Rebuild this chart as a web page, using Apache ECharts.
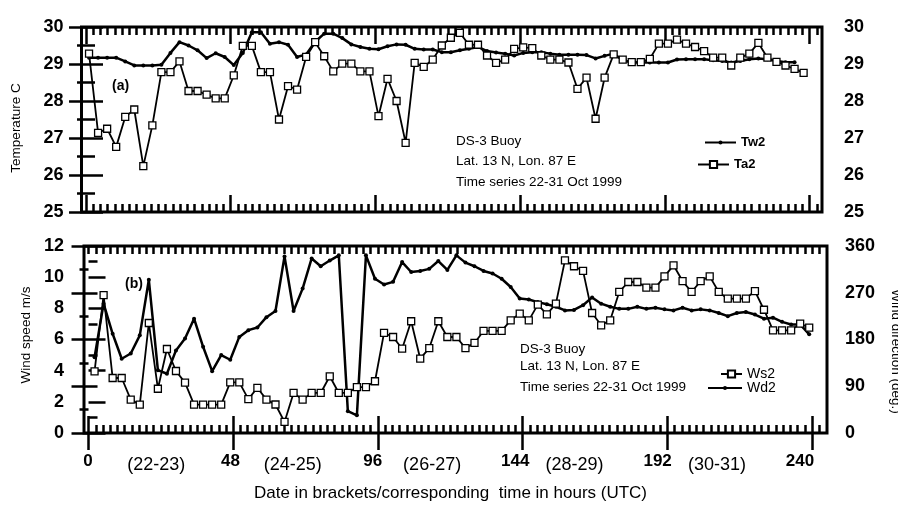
<!DOCTYPE html>
<html><head><meta charset="utf-8">
<script src="https://cdn.jsdelivr.net/npm/echarts@6/dist/echarts.min.js"></script>
<style>html,body{margin:0;padding:0;background:#fff}#c{width:898px;height:507px}</style>
</head><body><div id="c"></div>
<script>
// sampling times (hours)
const hoursTop = [1,4,7,10,13,16,19,22,25,28,31,34,37,40,43,46,49,52,55,58,61,64,67,70,73,76,79,82,85,88,91,94,97,100,103,106,109,112,115,118,121,124,127,130,133,136,139,142,145,148,151,154,157,160,163,166,169,172,175,178,181,184,187,190,193,196,199,202,205,208,211,214,217,220,223,226,229,232,235,238];
const hoursBottom = [2,5,8,11,14,17,20,23,26,29,32,35,38,41,44,47,50,53,56,59,62,65,68,71,74,77,80,83,86,89,92,95,98,101,104,107,110,113,116,119,122,125,128,131,134,137,140,143,146,149,152,155,158,161,164,167,170,173,176,179,182,185,188,191,194,197,200,203,206,209,212,215,218,221,224,227,230,233,236,239];

const tw2 = [29.17,29.17,29.17,29.17,29.07,28.96,28.96,28.96,28.98,29.30,
29.59,29.50,29.37,29.16,29.29,29.19,28.97,29.30,29.86,29.86,
29.55,29.59,29.52,29.19,29.26,29.60,29.82,29.82,29.70,29.53,
29.46,29.41,29.40,29.48,29.53,29.52,29.41,29.39,29.39,29.32,
29.32,29.37,29.41,29.46,29.35,29.31,29.28,29.23,29.30,29.32,
29.32,29.28,29.25,29.25,29.25,29.24,29.15,29.22,29.28,29.10,
29.04,29.04,29.04,29.04,29.04,29.12,29.13,29.13,29.13,29.10,
29.08,29.04,29.08,29.13,29.15,29.13,29.08,29.05,29.05,null];

const ta2 = [29.28,27.14,27.25,26.76,27.57,27.77,26.24,27.34,28.78,28.78,
29.07,28.27,28.27,28.17,28.07,28.07,28.69,29.49,29.49,28.78,
28.78,27.50,28.40,28.31,29.19,29.59,29.21,28.80,29.01,29.01,
28.80,28.80,27.59,28.60,28.00,26.87,29.03,28.92,29.12,29.50,
29.71,29.84,29.52,29.52,29.23,29.03,29.12,29.41,29.45,29.43,
29.23,29.12,29.12,29.04,28.33,28.63,27.52,28.63,29.26,29.12,
29.05,29.05,29.14,29.55,29.55,29.66,29.55,29.46,29.35,29.17,
29.17,28.96,29.17,29.28,29.57,29.17,29.06,28.96,28.87,28.76];

const ws2 = [3.96,8.85,3.53,3.53,2.14,1.82,7.06,2.84,5.39,3.98,
3.23,1.82,1.82,1.82,1.82,3.25,3.25,2.17,2.90,2.14,
1.83,0.71,2.57,2.14,2.57,2.57,3.64,2.57,2.57,2.95,
2.95,3.32,6.42,6.16,5.41,7.17,4.77,5.45,7.17,6.16,
6.16,5.45,5.78,6.55,6.55,6.55,7.23,7.66,7.23,8.24,
7.61,8.30,11.08,10.70,10.40,7.70,6.91,7.23,9.05,9.69,
9.69,9.33,9.33,10.05,10.76,9.75,9.05,9.75,10.05,9.05,
8.62,8.62,8.62,9.11,7.91,6.59,6.59,6.59,7.02,6.76];

const wd2 = [146,249,191,143,153,188,295,121,114,159,
182,220,166,119,150,141,185,198,203,223,
235,340,235,278,336,321,332,342,42,34,
342,297,286,291,329,310,312,316,331,314,
342,328,321,312,307,297,281,259,257,252,
248,243,236,237,246,261,249,243,239,239,
243,239,241,238,236,241,236,238,236,231,
225,231,233,228,220,222,214,209,209,190];

const hourTickValues = [0,48,96,144,192,240];
const hourTickLabels = ['0','48','96','144','192','240'];
const dateLabelHours = [23,69,116,164,212];
const dateLabels = ['(22-23)','(24-25)','(26-27)','(28-29)','(30-31)'];

const FF = '"Liberation Sans", Arial, Helvetica, sans-serif';
const SLOPE = 3.015; // px per hour

const labelMap = {};
hourTickValues.forEach((v, i) => labelMap[v] = '{n|' + hourTickLabels[i] + '}');
dateLabelHours.forEach((v, i) => labelMap[v] = '{d|' + dateLabels[i] + '}');

function tickAxis(grid, pos, vals, len, min, max) {
  return {
    type: 'value', gridIndex: grid, position: pos, min: min, max: max,
    axisLine: { show: false }, splitLine: { show: false },
    axisLabel: { show: false },
    axisTick: { show: true, inside: true, length: len, customValues: vals,
      lineStyle: { color: '#000', width: 2.5 } }
  };
}
function minorAxis(grid, pos) {
  return {
    type: 'value', gridIndex: grid, position: pos, min: 0, max: 242.4, interval: 2.4,
    axisLine: { show: false }, splitLine: { show: false },
    axisLabel: { show: false },
    axisTick: { show: true, inside: true, length: 8, interval: 0,
      lineStyle: { color: '#000', width: 2.5 } }
  };
}
const TOPMIN = -1.5, TOPMAX = 244.1, BOTMIN = -1.5, BOTMAX = 244.9;

function yAx(grid, pos, min, max, interval, name, nameGap, nameRotate, margin, namePad) {
  return {
    type: 'value', gridIndex: grid, position: pos, min: min, max: max, interval: interval,
    axisLine: { show: false }, splitLine: { show: false },
    axisTick: { show: true, inside: true, length: 17, lineStyle: { color: '#000', width: 2.5 } },
    minorTick: { show: true, splitNumber: 2, length: 9, lineStyle: { color: '#000', width: 2.5 } },
    axisLabel: { color: '#000', fontSize: 18, fontWeight: 'bold', fontFamily: FF, margin: margin },
    name: name, nameLocation: 'middle', nameGap: nameGap, nameRotate: nameRotate,
    nameTextStyle: { color: '#000', fontSize: 13.5, fontFamily: FF, padding: namePad }
  };
}

const chart = echarts.init(document.getElementById('c'), null, { renderer: 'canvas' });
const option = {
  animation: false,
  backgroundColor: '#fff',
  grid: [
    { left: 81.5, width: 740.5, top: 27, height: 185, show: true, borderColor: '#000', borderWidth: 3, backgroundColor: 'transparent', outerBoundsMode: 'none', containLabel: false },
    { left: 84, width: 743, top: 246, height: 187, show: true, borderColor: '#000', borderWidth: 3, backgroundColor: 'transparent', outerBoundsMode: 'none', containLabel: false },
    { left: 81.5 + 1.5 * SLOPE, width: 242.4 * SLOPE, top: 27, height: 185, show: false, outerBoundsMode: 'none', containLabel: false },
    { left: 84 + 1.5 * SLOPE, width: 242.4 * SLOPE, top: 246, height: 187, show: false, outerBoundsMode: 'none', containLabel: false }
  ],
  xAxis: [
    tickAxis(0, 'bottom', hourTickValues, 17, TOPMIN, TOPMAX),
    tickAxis(0, 'top', hourTickValues, 17, TOPMIN, TOPMAX),
    tickAxis(1, 'bottom', hourTickValues, 17, BOTMIN, BOTMAX),
    tickAxis(1, 'top', hourTickValues, 17, BOTMIN, BOTMAX),
    {
      type: 'value', gridIndex: 1, position: 'bottom', min: -1.348, max: 249.1,
      axisLine: { show: false }, splitLine: { show: false }, axisTick: { show: false },
      axisLabel: {
        show: true, margin: 20, customValues: hourTickValues.concat(dateLabelHours),
        formatter: function (v) { return labelMap[v] || ''; },
        rich: {
          n: { fontSize: 17, fontWeight: 'bold', fontFamily: FF, color: '#000' },
          d: { fontSize: 18, fontFamily: FF, color: '#000', padding: [3, 0, 0, 0] }
        }
      },
      name: 'Date in brackets/corresponding  time in hours (UTC)',
      nameLocation: 'middle', nameGap: 52,
      nameTextStyle: { color: '#000', fontSize: 17, fontFamily: FF, padding: [0, 10, 0, 0] }
    },
    minorAxis(2, 'bottom'),
    minorAxis(2, 'top'),
    minorAxis(3, 'bottom'),
    minorAxis(3, 'top')
  ],
  yAxis: [
    yAx(0, 'left', 25, 30, 1, 'Temperature C', 58, 90, 18, [0, 17, 0, 0]),
    yAx(0, 'right', 25, 30, 1, '', 0, 0, 22, 0),
    yAx(1, 'left', 0, 12, 2, 'Wind speed m/s', 47, 90, 20, [0, 0, 0, 9]),
    yAx(1, 'right', 0, 360, 90, 'Wind direction (deg.)', 62, -90, 18, [0, 0, 0, 24]),
    { type: 'value', gridIndex: 2, show: false, min: 0, max: 1 },
    { type: 'value', gridIndex: 3, show: false, min: 0, max: 1 }
  ],
  legend: [
    { data: ['Tw2'], left: 704, top: 136, padding: 0, orient: 'vertical', itemWidth: 31, itemHeight: 5, selectedMode: false,
      textStyle: { color: '#000', fontSize: 13, fontWeight: 'bold', fontFamily: FF } },
    { data: ['Ta2'], left: 697, top: 158, padding: 0, orient: 'vertical', itemWidth: 31, itemHeight: 9, selectedMode: false,
      textStyle: { color: '#000', fontSize: 13, fontWeight: 'bold', fontFamily: FF } },
    { data: ['Ws2'], left: 720, top: 367, padding: 0, orient: 'vertical', itemWidth: 21, itemHeight: 9, selectedMode: false,
      textStyle: { color: '#000', fontSize: 14, fontFamily: FF } },
    { data: ['Wd2'], left: 707, top: 381, padding: 0, orient: 'vertical', itemWidth: 34, itemHeight: 5, selectedMode: false,
      textStyle: { color: '#000', fontSize: 14, fontFamily: FF } }
  ],
  graphic: [
    { type: 'text', x: 112, y: 86, style: { text: '(a)', font: 'bold 14px ' + FF, fill: '#000', verticalAlign: 'middle' } },
    { type: 'text', x: 456, y: 141, style: { text: 'DS-3 Buoy', font: '13.5px ' + FF, fill: '#000', verticalAlign: 'middle' } },
    { type: 'text', x: 456, y: 161, style: { text: 'Lat. 13 N, Lon. 87 E', font: '13.5px ' + FF, fill: '#000', verticalAlign: 'middle' } },
    { type: 'text', x: 456, y: 182, style: { text: 'Time series 22-31 Oct 1999', font: '13.5px ' + FF, fill: '#000', verticalAlign: 'middle' } },
    { type: 'text', x: 125, y: 284, style: { text: '(b)', font: 'bold 14px ' + FF, fill: '#000', verticalAlign: 'middle' } },
    { type: 'text', x: 520, y: 349, style: { text: 'DS-3 Buoy', font: '13.5px ' + FF, fill: '#000', verticalAlign: 'middle' } },
    { type: 'text', x: 520, y: 366, style: { text: 'Lat. 13 N, Lon. 87 E', font: '13.5px ' + FF, fill: '#000', verticalAlign: 'middle' } },
    { type: 'text', x: 520, y: 387, style: { text: 'Time series 22-31 Oct 1999', font: '13.5px ' + FF, fill: '#000', verticalAlign: 'middle' } }
  ],
  series: [
    { type: 'line', name: 'Tw2', xAxisIndex: 0, yAxisIndex: 0, z: 2,
      data: hoursTop.map((h, i) => [h, tw2[i]]),
      symbol: 'circle', symbolSize: 4, showSymbol: true, connectNulls: false,
      lineStyle: { color: '#000', width: 2.5 }, itemStyle: { color: '#000' } },
    { type: 'line', name: 'Ta2', xAxisIndex: 0, yAxisIndex: 0, z: 3,
      data: hoursTop.map((h, i) => [h, ta2[i]]),
      symbol: 'rect', symbolSize: 7, showSymbol: true,
      lineStyle: { color: '#000', width: 1.8 }, itemStyle: { color: '#fff', borderColor: '#000', borderWidth: 1.3 } },
    { type: 'line', name: 'Wd2', xAxisIndex: 2, yAxisIndex: 3, z: 2,
      data: hoursBottom.map((h, i) => [h, wd2[i]]),
      symbol: 'circle', symbolSize: 4, showSymbol: true,
      lineStyle: { color: '#000', width: 2.5 }, itemStyle: { color: '#000' } },
    { type: 'line', name: 'Ws2', xAxisIndex: 2, yAxisIndex: 2, z: 3,
      data: hoursBottom.map((h, i) => [h, ws2[i]]),
      symbol: 'rect', symbolSize: 7, showSymbol: true,
      lineStyle: { color: '#000', width: 1.8 }, itemStyle: { color: '#fff', borderColor: '#000', borderWidth: 1.3 } }
  ]
};
chart.setOption(option);
</script>
</body></html>
